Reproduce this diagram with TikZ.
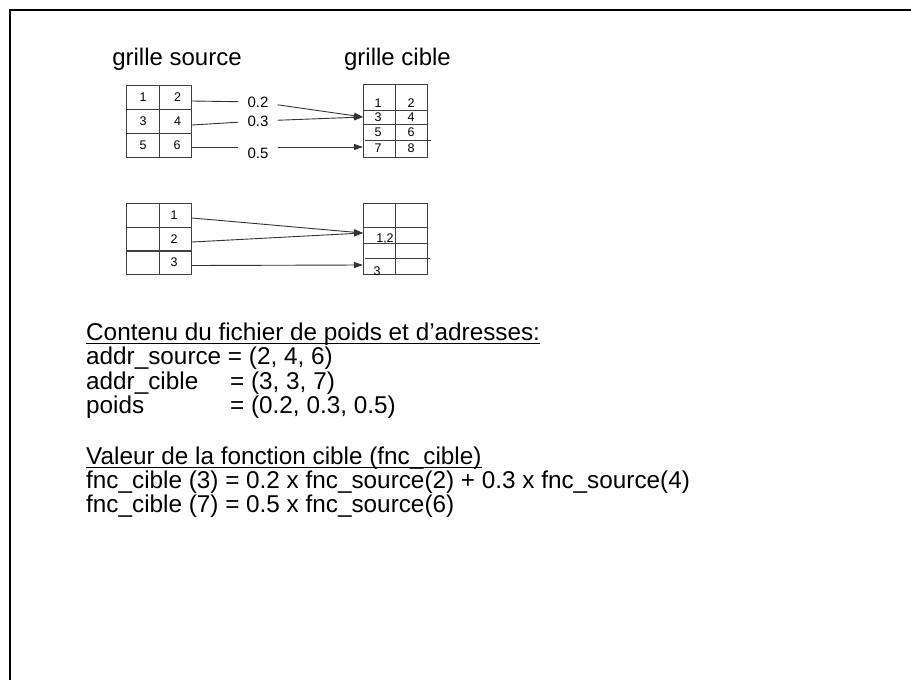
\documentclass[tikz,border=0pt]{standalone}
\usepackage{fontspec}
\setmainfont{Liberation Sans}
\usetikzlibrary{arrows.meta,calc}
\begin{document}
\begin{tikzpicture}[x=1pt,y=-1pt,
  frame/.style={line width=2.5pt,black},
  gridline/.style={line width=0.9pt,black!75},
  cell/.style={draw=black!75,line width=0.9pt,minimum width=32.5pt,minimum height=24pt,inner sep=0pt,font=\fontsize{12.5}{12.5}\selectfont},
  small/.style={inner sep=0pt,font=\fontsize{12.5}{12.5}\selectfont},
  weight/.style={inner ysep=2pt,inner xsep=9pt,font=\fontsize{15}{15}\selectfont},
  title/.style={inner sep=0pt,anchor=base,font=\fontsize{24}{24}\selectfont},
  body/.style={inner sep=0pt,anchor=base west,font=\fontsize{24.3}{24.3}\selectfont},
  conn/.style={line width=0.9pt,black!80},
  arr/.style={conn,-{Triangle[length=9pt,width=6pt]}},
  uline/.style={line width=0.9pt}]
\useasboundingbox (0,0) rectangle (911,680);
\fill[white] (0,0) rectangle (911,680);
% frame
\draw[frame] (10,690) -- (10,10) -- (920,10);
% titles
\node[title] (tsrc) at (177,65) {grille source};
\node[title] (tcib) at (397.5,65) {grille cible};
% source grid 1
\node[cell] (s1) at (143,97) {1};
\node[cell] (s2) at (175.5,97) {\hspace{4pt}2};
\node[cell] (s3) at (143,121) {3};
\node[cell] (s4) at (175.5,121) {\hspace{4pt}4};
\node[cell] (s5) at (143,145) {5};
\node[cell] (s6) at (175.5,145) {\hspace{3pt}6};
% target grid 1
\draw[gridline] (363,84) rectangle (427,157);
\draw[gridline] (395,84) -- (395,157);
\draw[gridline] (363,110) -- (427,110);
\draw[gridline] (363,124) -- (427,124);
\draw[gridline] (365,140) -- (431,140);
\node[small] (c1) at (378,103) {1};
\node[small] (c2) at (411,103) {2};
\node[small] (c3) at (378,117) {3};
\node[small] (c4) at (411,117) {4};
\node[small] (c5) at (378,132) {5};
\node[small] (c6) at (411,132) {6};
\node[small] (c7) at (378,148.5) {7};
\node[small] (c8) at (411,148.5) {8};
\coordinate (t3) at (363,117);
\coordinate (t7) at (363,147);
% weights
\node[weight] (w02) at (258,102) {0.2};
\node[weight] (w03) at (258,121) {0.3};
\node[weight] (w05) at (258,153) {0.5};
\draw[conn] ([yshift=-4pt]s2.east) -- (w02);
\draw[arr] (w02) -- (t3);
\draw[conn] ([yshift=-4pt]s4.east) -- (w03);
\draw[arr] (w03) -- (t3);
\coordinate (a5) at ([yshift=-2pt]s6.east);
\draw[conn] (a5) -- (a5 -| w05.west);
\draw[arr] (a5 -| w05.east) -- (t7);
% source grid 2
\node[cell] (p1) at (143,215) {};
\node[cell] (q1) at (175.5,215) {\hspace{-3pt}1};
\node[cell] (p2) at (143,239) {};
\node[cell] (q2) at (175.5,239) {\hspace{-3pt}2};
\node[cell] (p3) at (143,262.5) {};
\node[cell] (q3) at (175.5,262.5) {\hspace{-3pt}3};
% target grid 2
\draw[gridline] (363,203) rectangle (427,274);
\draw[gridline] (395,203) -- (395,274);
\draw[gridline] (363,227) -- (427,227);
\draw[gridline] (363,243) -- (427,243);
\draw[gridline] (365,258) -- (430,258);
\node[small] (d12) at (385,238.5) {1,2};
\node[small] (d3) at (377,271) {3};
\coordinate (u12) at (363,233);
\coordinate (u3) at (363,265);
\draw[arr] ([yshift=-3pt]q1.east) -- (u12);
\draw[arr] ([yshift=-3pt]q2.east) -- (u12);
\draw[arr] ([yshift=-3pt]q3.east) -- (u3);
% text block
\node[body] (l1) at (86,340) {Contenu du fichier de poids et d’adresses:};
\draw[uline] ([yshift=-3pt]l1.base west) -- ([yshift=-3pt]l1.base east);
\node[body] (l2) at (86,364.5) {addr\_source = (2, 4, 6)};
\node[body] (l3) at (86,389) {addr\_cible};
\node[body] (l3b) at (230,389) {= (3, 3, 7)};
\node[body] (l4) at (86,413.5) {poids};
\node[body] (l4b) at (230,413.5) {= (0.2, 0.3, 0.5)};
\node[body] (l5) at (86,464.5) {Valeur de la fonction cible (fnc\_cible)};
\draw[uline] ([yshift=-3pt]l5.base west) -- ([yshift=-3pt]l5.base east);
\node[body] (l6) at (86,488.5) {fnc\_cible (3) = 0.2 x fnc\_source(2) + 0.3 x fnc\_source(4)};
\node[body] (l7) at (86,512.5) {fnc\_cible (7) = 0.5 x fnc\_source(6)};
\end{tikzpicture}
\end{document}
